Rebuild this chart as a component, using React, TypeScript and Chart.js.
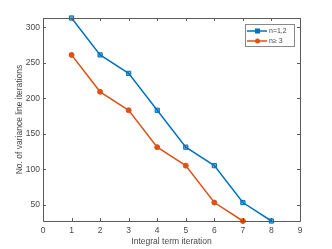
import React, { useEffect, useRef } from "react";
import { Chart, registerables } from "chart.js";

Chart.register(...registerables);

const xValues = [1, 2, 3, 4, 5, 6, 7, 8];
const seriesA = [313, 261, 235, 183, 131, 105, 53, 27];
const seriesB = [261, 209, 183, 131, 105, 53, 27];
const xTicks = [0, 1, 2, 3, 4, 5, 6, 7, 8, 9];
const yTicks = [50, 100, 150, 200, 250, 300];
const labelA = "n=1,2";
const labelB = "n\u2265 3";
const xTitle = "Integral term iteration";
const yTitle = "No. of variance line iterations";

const BLUE = "#0072BD";
const ORANGE = "#D95319";
const AXIS = "#5a5a5a";
const TEXT = "#484848";
const FONT = "Liberation Sans, Arial, sans-serif";

const boxPlugin = {
  id: "matlabBox",
  afterDraw(chart: any) {
    const { ctx, chartArea: a, scales } = chart;
    const xs = scales.x;
    const ys = scales.y;
    ctx.save();
    ctx.strokeStyle = AXIS;
    ctx.lineWidth = 1;
    ctx.beginPath();
    ctx.rect(Math.round(a.left) + 0.5, Math.round(a.top) + 0.5, Math.round(a.right - a.left), Math.round(a.bottom - a.top));
    ctx.stroke();
    const tl = 3;
    ctx.beginPath();
    xTicks.forEach((v) => {
      const px = Math.round(xs.getPixelForValue(v)) + 0.5;
      ctx.moveTo(px, a.bottom);
      ctx.lineTo(px, a.bottom - tl);
      ctx.moveTo(px, a.top);
      ctx.lineTo(px, a.top + tl);
    });
    yTicks.forEach((v) => {
      const py = Math.round(ys.getPixelForValue(v)) + 0.5;
      ctx.moveTo(a.left, py);
      ctx.lineTo(a.left + tl, py);
      ctx.moveTo(a.right, py);
      ctx.lineTo(a.right - tl, py);
    });
    ctx.stroke();

    // legend
    const lx = 245, ly = 24, lw = 49, lh = 22;
    ctx.fillStyle = "#ffffff";
    ctx.fillRect(lx, ly, lw, lh);
    ctx.strokeStyle = "#888888";
    ctx.strokeRect(lx + 0.5, ly + 0.5, lw, lh);
    const items = [
      { label: labelA, color: BLUE, shape: "rect" },
      { label: labelB, color: ORANGE, shape: "circle" },
    ];
    items.forEach((it, i) => {
      const y = ly + 7 + i * 10;
      ctx.strokeStyle = it.color;
      ctx.lineWidth = 1.5;
      ctx.beginPath();
      ctx.moveTo(lx + 2, y);
      ctx.lineTo(lx + 22, y);
      ctx.stroke();
      ctx.fillStyle = it.color;
      if (it.shape === "rect") {
        ctx.fillRect(lx + 10, y - 2.5, 5, 5);
      } else {
        ctx.beginPath();
        ctx.arc(lx + 12.5, y, 2.5, 0, Math.PI * 2);
        ctx.fill();
      }
      ctx.fillStyle = TEXT;
      ctx.font = `7px ${FONT}`;
      ctx.textBaseline = "middle";
      ctx.textAlign = "left";
      ctx.fillText(it.label, lx + 24, y + 0.5);
    });
    ctx.restore();
  },
};

export default function App() {
  const ref = useRef<HTMLCanvasElement | null>(null);
  useEffect(() => {
    document.body.style.margin = "0";
    const chart = new Chart(ref.current as HTMLCanvasElement, {
      type: "line",
      data: {
        datasets: [
          {
            label: labelA,
            data: xValues.map((x, i) => ({ x, y: seriesA[i] })),
            borderColor: BLUE,
            backgroundColor: BLUE,
            borderWidth: 1.5,
            pointStyle: "rect",
            pointRadius: 3,
            pointBorderWidth: 1,
            pointBackgroundColor: "rgba(0,114,189,0.6)",
            clip: false,
          },
          {
            label: labelB,
            data: seriesB.map((y, i) => ({ x: xValues[i], y })),
            borderColor: ORANGE,
            backgroundColor: ORANGE,
            borderWidth: 1.5,
            pointStyle: "circle",
            pointRadius: 2.5,
            pointBorderWidth: 1,
            pointBackgroundColor: ORANGE,
            clip: false,
          },
        ],
      },
      options: {
        animation: false,
        responsive: false,
        devicePixelRatio: 1,
        layout: { padding: { left: 0, right: 32, top: 18, bottom: 0 } },
        plugins: { legend: { display: false }, tooltip: { enabled: false } },
        scales: {
          x: {
            type: "linear",
            min: 0,
            max: 9,
            afterBuildTicks: (s: any) => {
              s.ticks = xTicks.map((v) => ({ value: v }));
            },
            afterFit: (s: any) => {
              s.height = 28;
            },
            grid: { display: false, drawTicks: false },
            border: { display: false },
            ticks: { color: TEXT, font: { size: 8.5, family: FONT }, padding: 5, maxRotation: 0, autoSkip: false },
            title: { display: true, text: xTitle, color: TEXT, font: { size: 8.5, family: FONT }, padding: { top: 0, bottom: 2.5 } },
          },
          y: {
            type: "linear",
            min: 27,
            max: 313,
            afterBuildTicks: (s: any) => {
              s.ticks = yTicks.map((v) => ({ value: v }));
            },
            afterFit: (s: any) => {
              s.width = 43;
            },
            grid: { display: false, drawTicks: false },
            border: { display: false },
            ticks: { color: TEXT, font: { size: 8.5, family: FONT }, padding: 3 },
            title: { display: true, text: yTitle, color: TEXT, font: { size: 8.5, family: FONT }, padding: { top: 14.5, bottom: 0 } },
          },
        },
      },
      plugins: [boxPlugin],
    } as any);
    return () => chart.destroy();
  }, []);
  return (
    <div style={{ width: 332, height: 249 }}>
      <canvas ref={ref} width={332} height={249} style={{ display: "block", width: 332, height: 249 }} />
    </div>
  );
}
